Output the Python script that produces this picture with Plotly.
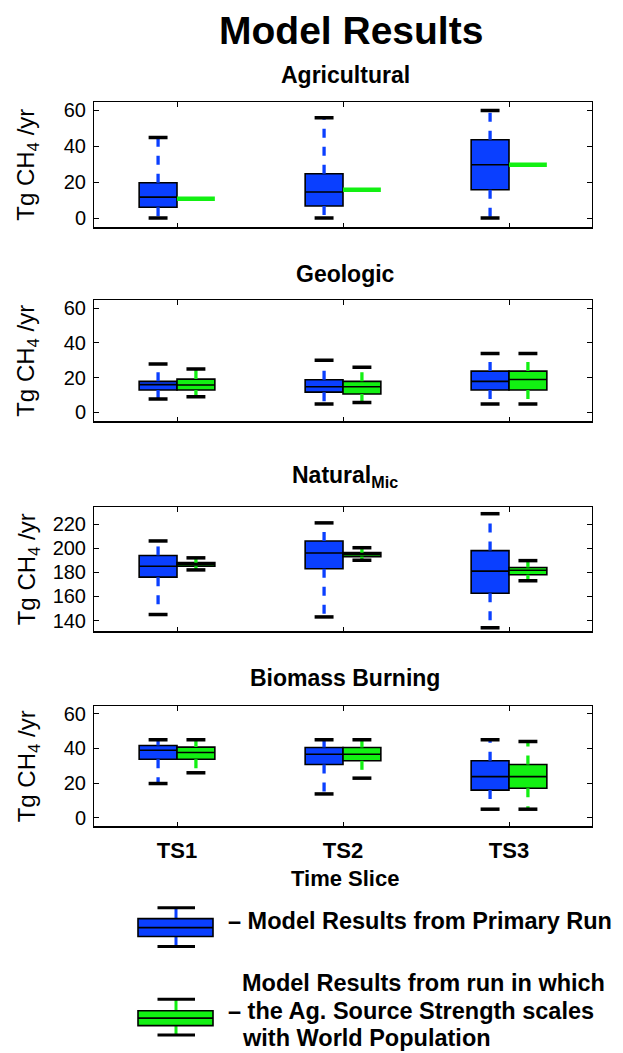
import plotly.graph_objects as go

W, H = 623, 1053
FONT = "Liberation Sans, Arial, Helvetica, sans-serif"
BLUE = "#0A3FFF"
GREEN = "#12F012"

categories = ["TS1", "TS2", "TS3"]
panel_titles = ["Agricultural", "Geologic", "Natural<sub>Mic</sub>", "Biomass Burning"]

# Primary run (blue): lower whisker, q1, median, q3, upper whisker
ag_blue_lo = [0, 0, 0]
ag_blue_q1 = [6, 6.7, 15.8]
ag_blue_med = [11.7, 14.5, 29.7]
ag_blue_q3 = [19.7, 24.7, 43.7]
ag_blue_hi = [45, 56, 60]
# Population-scaled run (green) - collapsed to a single value
ag_green_lo = [10.8, 15.8, 29.8]
ag_green_q1 = [10.8, 15.8, 29.8]
ag_green_med = [10.8, 15.8, 29.8]
ag_green_q3 = [10.8, 15.8, 29.8]
ag_green_hi = [10.8, 15.8, 29.8]

geo_blue_lo = [7.7, 4.8, 4.8]
geo_blue_q1 = [12.9, 11.7, 12.9]
geo_blue_med = [16, 14.8, 17.9]
geo_blue_q3 = [17.9, 18.8, 23.8]
geo_blue_hi = [27.9, 30, 34]
geo_green_lo = [9, 5.8, 4.8]
geo_green_q1 = [12.9, 10.6, 12.9]
geo_green_med = [15.8, 14.8, 19]
geo_green_q3 = [19.2, 17.9, 23.8]
geo_green_hi = [25, 26, 34]

nat_blue_lo = [145, 143, 134]
nat_blue_q1 = [176, 183, 162.6]
nat_blue_med = [185, 196, 181]
nat_blue_q3 = [194, 206, 198]
nat_blue_hi = [206, 221, 228.6]
nat_green_lo = [182, 190, 173]
nat_green_q1 = [185, 193, 178]
nat_green_med = [186.6, 194.9, 181.7]
nat_green_q3 = [188, 196.3, 184]
nat_green_hi = [192, 200.4, 189.7]

bio_blue_lo = [19.8, 13.8, 5]
bio_blue_q1 = [33.8, 30.8, 16]
bio_blue_med = [39, 36.7, 23.8]
bio_blue_q3 = [41.7, 40.6, 32.9]
bio_blue_hi = [45, 45, 45]
bio_green_lo = [26, 22.9, 5]
bio_green_q1 = [33.8, 32.9, 17.1]
bio_green_med = [37.7, 36.7, 23.8]
bio_green_q3 = [40.8, 40.6, 30.8]
bio_green_hi = [45, 45, 44]

y_ranges = [[-5.5, 65], [-5.5, 65], [130.5, 234.5], [-5.3, 64.7]]
y_ticks = [[0, 20, 40, 60], [0, 20, 40, 60], [140, 160, 180, 200, 220], [0, 20, 40, 60]]

panels = [
    ((ag_blue_lo, ag_blue_q1, ag_blue_med, ag_blue_q3, ag_blue_hi),
     (ag_green_lo, ag_green_q1, ag_green_med, ag_green_q3, ag_green_hi)),
    ((geo_blue_lo, geo_blue_q1, geo_blue_med, geo_blue_q3, geo_blue_hi),
     (geo_green_lo, geo_green_q1, geo_green_med, geo_green_q3, geo_green_hi)),
    ((nat_blue_lo, nat_blue_q1, nat_blue_med, nat_blue_q3, nat_blue_hi),
     (nat_green_lo, nat_green_q1, nat_green_med, nat_green_q3, nat_green_hi)),
    ((bio_blue_lo, bio_blue_q1, bio_blue_med, bio_blue_q3, bio_blue_hi),
     (bio_green_lo, bio_green_q1, bio_green_med, bio_green_q3, bio_green_hi)),
]

# pixel layout of the panels
x_px = (94, 592)
y_px = [(99, 226), (298, 421), (506, 632), (706, 828)]
title_py = [72, 272, 476, 678]


def PX(x):
    return x / W


def PY(y):
    return 1 - y / H


BOXW = 0.228
CAPW = 0.114
fig = go.Figure()

for i, (blue, green) in enumerate(panels):
    ax = "" if i == 0 else str(i + 1)
    xr, yr = "x" + ax, "y" + ax
    for series, color, off in ((blue, BLUE, -BOXW / 2), (green, GREEN, BOXW / 2)):
        lo, q1, med, q3, hi = series
        xs = [k + 1 + off for k in range(len(categories))]
        for k in range(len(xs)):
            collapsed = q3[k] - q1[k] < 1e-9
            fig.add_trace(go.Box(
                x=[xs[k]], q1=[q1[k]], median=[med[k]], q3=[q3[k]],
                lowerfence=[q1[k]], upperfence=[q3[k]],
                width=BOXW, whiskerwidth=0, boxpoints=False,
                fillcolor=color,
                line=dict(color=color if collapsed else "black", width=4.5 if collapsed else 1.6),
                xaxis=xr, yaxis=yr, showlegend=False, hoverinfo="skip"))
        # dashed whiskers and black caps
        wx, wy, cx, cy = [], [], [], []
        for k in range(len(xs)):
            if hi[k] > q3[k]:
                wx += [xs[k], xs[k], None]
                wy += [q3[k], hi[k], None]
                cx += [xs[k] - CAPW / 2, xs[k] + CAPW / 2, None]
                cy += [hi[k], hi[k], None]
            if lo[k] < q1[k]:
                wx += [xs[k], xs[k], None]
                wy += [q1[k], lo[k], None]
                cx += [xs[k] - CAPW / 2, xs[k] + CAPW / 2, None]
                cy += [lo[k], lo[k], None]
        if wx:
            fig.add_trace(go.Scatter(x=wx, y=wy, mode="lines",
                                     line=dict(color=color, width=3.3, dash="9px,9px"),
                                     xaxis=xr, yaxis=yr, showlegend=False, hoverinfo="skip"))
            fig.add_trace(go.Scatter(x=cx, y=cy, mode="lines",
                                     line=dict(color="black", width=3.5),
                                     xaxis=xr, yaxis=yr, showlegend=False, hoverinfo="skip"))

layout = dict(
    width=W, height=H, margin=dict(l=0, r=0, t=0, b=0),
    paper_bgcolor="white", plot_bgcolor="white", showlegend=False,
    boxmode="overlay",
    font=dict(family=FONT, color="black"),
)
annotations = []
shapes = []
for i in range(4):
    ax = "" if i == 0 else str(i + 1)
    top, bot = y_px[i]
    last = i == 3
    layout["xaxis" + ax] = dict(
        domain=[PX(x_px[0]), PX(x_px[1])], range=[0.5, 3.5], anchor="y" + ax,
        tickvals=[1, 2, 3], ticktext=["<b>%s</b>" % c for c in categories],
        showticklabels=last, ticks="inside", ticklen=5, tickcolor="black",
        mirror="ticks", showline=True, linecolor="black", linewidth=1,
        showgrid=False, zeroline=False, tickfont=dict(size=22, family=FONT),
        ticklabelstandoff=4,
    )
    layout["yaxis" + ax] = dict(
        domain=[PY(bot), PY(top)], range=y_ranges[i], anchor="x" + ax,
        tickvals=y_ticks[i], ticks="inside", ticklen=5, tickcolor="black",
        mirror="ticks", showline=True, linecolor="black", linewidth=1,
        showgrid=False, zeroline=False, tickfont=dict(size=20, family=FONT),
        ticklabelstandoff=3,
    )
    shapes.append(dict(type="line", xref="x%s domain" % ax, yref="y%s domain" % ax,
                       x0=0, x1=1, y0=0, y1=0, line=dict(color="black", width=2)))
    annotations.append(dict(text="<b>%s</b>" % panel_titles[i], x=PX(345), y=PY(title_py[i]),
                            xref="paper", yref="paper", showarrow=False,
                            xanchor="center", yanchor="middle", font=dict(size=23)))
    annotations.append(dict(text="Tg CH<sub>4</sub> /yr", x=PX(28), y=PY((top + bot) / 2),
                            xref="paper", yref="paper", showarrow=False, textangle=-90,
                            xanchor="center", yanchor="middle", font=dict(size=24)))

annotations.append(dict(text="<b>Model Results</b>", x=PX(351), y=PY(28), xref="paper", yref="paper",
                        showarrow=False, xanchor="center", yanchor="middle", font=dict(size=39)))
annotations.append(dict(text="<b>Time Slice</b>", x=PX(345), y=PY(880), xref="paper", yref="paper",
                        showarrow=False, xanchor="center", yanchor="middle", font=dict(size=22)))


def legend_glyph(color, box_top, box_bot, cap_top, cap_bot):
    out = []
    out.append(dict(type="line", xref="paper", yref="paper", x0=PX(176), x1=PX(176),
                    y0=PY(cap_top), y1=PY(box_top), line=dict(color=color, width=3)))
    out.append(dict(type="line", xref="paper", yref="paper", x0=PX(176), x1=PX(176),
                    y0=PY(box_bot), y1=PY(cap_bot), line=dict(color=color, width=3)))
    out.append(dict(type="rect", xref="paper", yref="paper", x0=PX(138), x1=PX(213),
                    y0=PY(box_bot), y1=PY(box_top), fillcolor=color, line=dict(color="black", width=1.6)))
    mid = (box_top + box_bot) / 2
    out.append(dict(type="line", xref="paper", yref="paper", x0=PX(138), x1=PX(213),
                    y0=PY(mid), y1=PY(mid), line=dict(color="black", width=1.6)))
    for cyy in (cap_top, cap_bot):
        out.append(dict(type="line", xref="paper", yref="paper", x0=PX(157.5), x1=PX(195),
                        y0=PY(cyy), y1=PY(cyy), line=dict(color="black", width=3)))
    return out


shapes += legend_glyph(BLUE, 920, 938, 909, 948)
shapes += legend_glyph(GREEN, 1012.5, 1027.5, 1001, 1037)

leg_font = dict(size=23.5)
for txt, x, y in (("– Model Results from Primary Run", 226, 922),
                  ("Model Results from run in which", 240, 985),
                  ("– the Ag. Source Strength scales", 226, 1013),
                  ("with World Population", 240, 1040)):
    annotations.append(dict(text="<b>%s</b>" % txt, x=PX(x), y=PY(y), xref="paper", yref="paper",
                            showarrow=False, xanchor="left", yanchor="middle", font=leg_font))

layout["annotations"] = annotations
layout["shapes"] = shapes
fig.update_layout(**layout)
fig.write_html("out.html", config={"displayModeBar": False},
               post_script="document.body.style.margin='0';document.body.style.overflow='hidden';")
